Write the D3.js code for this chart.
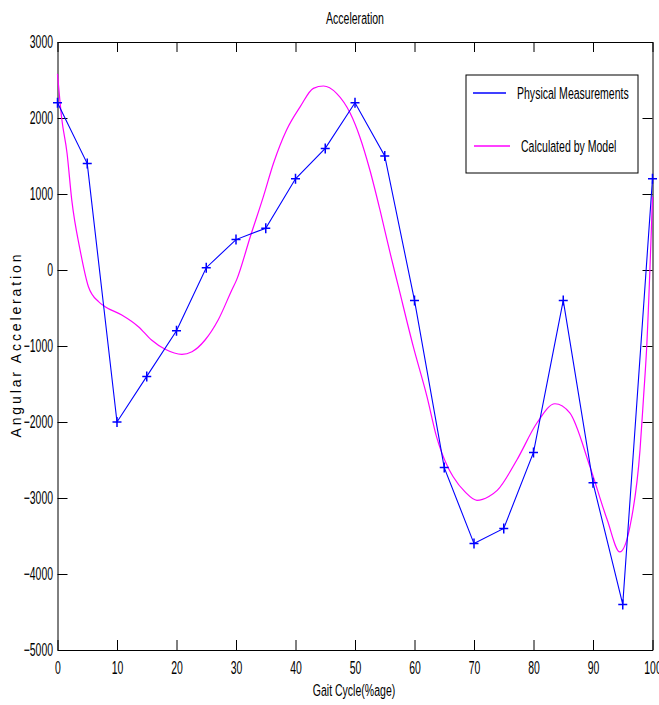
<!DOCTYPE html>
<html>
<head>
<meta charset="utf-8">
<script src="https://cdn.jsdelivr.net/npm/d3@7"></script>
<style>
  body { margin: 0; background: #fff; }
  text { font-family: "Liberation Sans", Arial, sans-serif; }
</style>
</head>
<body>
<div id="chart"></div>
<script>
// Measured series: every 5% of the gait cycle
const measuredX = [0, 5, 10, 15, 20, 25, 30, 35, 40, 45, 50, 55, 60, 65, 70, 75, 80, 85, 90, 95, 100];
const measuredY = [2200, 1400, -2000, -1400, -800, 30, 400, 550, 1200, 1600, 2200, 1500, -400, -2600, -3600, -3400, -2400, -400, -2800, -4400, 1200];

// Model curve
const modelX = [0, 0.7, 1.6, 2.4, 3.8, 5.2, 6.9, 8.0, 10.8, 13.6, 15.8, 18.1, 20.9, 22.6, 24.8, 27.0, 29.3, 30.1,
  32.4, 34.6, 36.3, 38.5, 40.8, 43.0, 44.7, 46.9, 49.2, 50.8, 52.5, 54.2, 55.9, 57.3, 59.8, 62.1, 63.7, 65.7,
  66.5, 68.5, 70.5, 72.5, 73.9, 77.2, 80.6, 83.6, 86.1, 89.5, 92.4, 94.5, 96.2, 97.9, 98.5, 99.0, 100];
const modelY = [2580, 2000, 1540, 920, 263, -220, -417, -483, -592, -746, -921, -1043, -1109, -1075, -921, -658, -263, -130,
  438, 965, 1404, 1842, 2149, 2390, 2421, 2325, 2062, 1754, 1316, 790, 224, -220, -1009, -1667, -2193, -2609,
  -2720, -2920, -3030, -2980, -2900, -2500, -2010, -1760, -1880, -2590, -3290, -3710, -3380, -2370, -1667, -1053, 965];

const xTicks = [0, 10, 20, 30, 40, 50, 60, 70, 80, 90, 100];
const yTicks = [-5000, -4000, -3000, -2000, -1000, 0, 1000, 2000, 3000];
const seriesNames = ["Physical Measurements", "Calculated by Model"];

const width = 659, height = 705;
const margin = { top: 42, right: 6.5, bottom: 55, left: 57.5 };

const svg = d3.select("#chart")
    .append("svg")
    .attr("width", width)
    .attr("height", height);

const x = d3.scaleLinear()
    .domain([0, 100])
    .range([margin.left, width - margin.right]);

const y = d3.scaleLinear()
    .domain([-5000, 3000])
    .range([height - margin.bottom, margin.top]);

// squeeze text horizontally (the original font is very condensed)
function narrow(sel, k) {
    sel.each(function() {
        const t = d3.select(this);
        const x0 = +t.attr("x") || 0;
        const prev = t.attr("transform") || "";
        t.attr("x", x0 / k)
         .attr("transform", `${prev} scale(${k},1)`);
    });
}

// Axes (ticks pointing inward, box on all sides)
const bottom = svg.append("g")
    .attr("transform", `translate(0, ${height - margin.bottom})`)
    .call(d3.axisBottom(x).tickValues(xTicks).tickSizeInner(-10).tickSizeOuter(0).tickPadding(11));

const left = svg.append("g")
    .attr("transform", `translate(${margin.left}, 0)`)
    .call(d3.axisLeft(y).tickValues(yTicks).tickSizeInner(-10).tickSizeOuter(0).tickPadding(4.5)
        .tickFormat(d3.format("d")));

svg.append("g")
    .attr("transform", `translate(0, ${margin.top})`)
    .call(d3.axisTop(x).tickValues(xTicks).tickSizeInner(-10).tickSizeOuter(0).tickFormat(""));

svg.append("g")
    .attr("transform", `translate(${width - margin.right}, 0)`)
    .call(d3.axisRight(y).tickValues(yTicks).tickSizeInner(-10).tickSizeOuter(0).tickFormat(""));

svg.selectAll(".domain, .tick line").attr("stroke", "#000").attr("stroke-width", 1);

bottom.selectAll("text").attr("font-size", 18).attr("fill", "#000").call(narrow, 0.58);
left.selectAll("text").attr("font-size", 18).attr("fill", "#000").call(narrow, 0.58);

// Model curve
const modelData = modelX.map((d, i) => ({ x: d, y: modelY[i] }));
svg.append("path")
    .datum(modelData)
    .attr("fill", "none")
    .attr("stroke", "#ff00ff")
    .attr("stroke-width", 1.2)
    .attr("d", d3.line().x(d => x(d.x)).y(d => y(d.y)).curve(d3.curveMonotoneX));

// Measured line + markers
const measured = measuredX.map((d, i) => ({ x: d, y: measuredY[i] }));
svg.append("path")
    .datum(measured)
    .attr("fill", "none")
    .attr("stroke", "#0000ff")
    .attr("stroke-width", 1.1)
    .attr("d", d3.line().x(d => x(d.x)).y(d => y(d.y)));

svg.selectAll(".mark")
    .data(measured)
    .enter()
    .append("path")
    .attr("class", "mark")
    .attr("fill", "none")
    .attr("stroke", "#0000ff")
    .attr("stroke-width", 1.5)
    .attr("d", d => {
        const cx = x(d.x), cy = y(d.y);
        return `M${cx - 4.5},${cy}H${cx + 4.5}M${cx},${cy - 5}V${cy + 5}`;
    });

// Legend
const legend = svg.append("g").attr("transform", "translate(466, 75)");
legend.append("rect")
    .attr("width", 172)
    .attr("height", 98)
    .attr("fill", "#fff")
    .attr("stroke", "#000")
    .attr("stroke-width", 1);

legend.append("line")
    .attr("x1", 7).attr("x2", 40).attr("y1", 18).attr("y2", 18)
    .attr("stroke", "#0000ff").attr("stroke-width", 1.5);
legend.append("line")
    .attr("x1", 8).attr("x2", 44).attr("y1", 71).attr("y2", 71)
    .attr("stroke", "#ff00ff").attr("stroke-width", 1.5);

legend.append("text")
    .attr("x", 51).attr("y", 24)
    .attr("font-size", 17)
    .text(seriesNames[0])
    .call(narrow, 0.62);
legend.append("text")
    .attr("x", 55).attr("y", 77)
    .attr("font-size", 17)
    .text(seriesNames[1])
    .call(narrow, 0.62);

// Title and labels
svg.append("text")
    .attr("x", (margin.left + width - margin.right) / 2)
    .attr("y", 24)
    .attr("text-anchor", "middle")
    .attr("font-size", 17)
    .text("Acceleration")
    .call(narrow, 0.62);

svg.append("text")
    .attr("x", 354)
    .attr("y", 696)
    .attr("text-anchor", "middle")
    .attr("font-size", 17)
    .text("Gait Cycle(%age)")
    .call(narrow, 0.62);

svg.append("text")
    .attr("transform", "translate(21, 346) rotate(-90)")
    .attr("text-anchor", "middle")
    .attr("font-size", 14)
    .attr("textLength", 183)
    .attr("lengthAdjust", "spacing")
    .text("Angular Acceleration");
</script>
</body>
</html>
